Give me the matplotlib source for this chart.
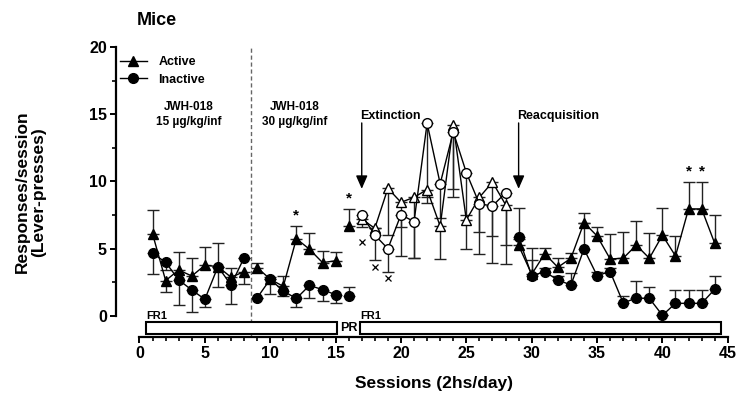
import numpy as np
import matplotlib
matplotlib.use("Agg")
import matplotlib.pyplot as plt
from matplotlib.patches import Rectangle
from matplotlib.lines import Line2D

plt.rcParams['font.family'] = ['Liberation Sans', 'DejaVu Sans']
plt.rcParams['font.weight'] = 'bold'

# ---------------- data ----------------
sessions = list(range(1, 45))

active = [6.1, 2.63, 3.42, 2.97, 3.77, 3.67, 2.88, 3.29,
          3.6, 2.73, 2.2, 5.75, 4.96, 3.97, 4.1,
          6.69,
          7.2, 6.52, 9.49, 8.45, 8.82, 9.4, 6.67, 14.2, 7.14, 8.82, 9.95, 8.28,
          5.24, 3.1, 4.63, 3.62, 4.29, 6.94, 5.95, 4.24, 4.29, 5.27, 4.29, 6.0,
          4.46, 7.96, 7.96, 5.4]
active_err = [1.78, 0.87, 1.36, 1.32, 1.38, 1.73, 0.66, 0.91,
              0.37, 0.19, 0.77, 0.94, 1.2, 0.83, 0.65,
              1.24,
              0.6, 0.0, 3.47, 1.85, 4.52, 0.53, 2.46, 4.78, 2.18, 2.55, 4.0, 4.41,
              0.5, 1.93, 0.4, 0.67, 0.37, 0.74, 0.69, 1.83, 1.93, 1.81, 1.91, 2.0,
              1.51, 1.98, 1.98, 2.11]
active_dir = [1, -1, 1, 1, 1, 1, 1, -1,
              1, 1, 1, 1, 1, 1, 1,
              1,
              -1, -1, -1, -1, -1, -1, -1, -1, -1, -1, -1, -1,
              1, 1, 1, 1, 1, 1, 1, 1, 1, 1, 1, 1, 1, 1, 1, 1]

inactive = [4.66, 3.99, 2.68, 1.93, 1.24, 3.67, 2.3, 4.33,
            1.35, 2.73, 1.85, 1.3, 2.27, 1.96, 1.58,
            1.51,
            7.51, 6.02, 5.0, 7.53, 7.01, 14.33, 9.83, 13.68, 10.66, 8.33, 8.18, 9.15,
            5.85, 3.0, 3.28, 2.68, 2.3, 4.98, 3.0, 3.3, 0.97, 1.33, 1.31, 0.05,
            0.94, 0.94, 0.94, 1.98]
inactive_err = [1.56, 0.57, 1.86, 1.66, 0.54, 1.49, 1.43, 0.0,
                0.0, 1.07, 0.36, 0.65, 0.91, 0.82, 0.64,
                0.67,
                0.57, 1.86, 1.71, 3.05, 2.71, 5.95, 2.57, 4.86, 3.15, 3.72, 4.26, 3.87,
                2.2, 1.16, 0.3, 0.3, 0.87, 1.9, 0.3, 0.3, 0.54, 1.3, 0.87, 0.0,
                0.99, 0.99, 0.99, 0.99]
inactive_dir = [-1] * 15 + [1] + [-1] * 12 + [1] * 16

# connected segments (first, last session), and whether markers are open
segments = [(1, 8, False), (9, 15, False), (16, 16, False), (17, 28, True), (29, 44, False)]

star_sessions = [12, 16, 42, 43]
cross_sessions = [17, 18, 19]
cross_values = [5.53, 3.62, 2.8]

phase_labels = ["FR1", "FR1"]
phase_start = [0.5, 16.9]
phase_end = [15.1, 44.5]

dose_labels = ["JWH-018\n15 µg/kg/inf", "JWH-018\n30 µg/kg/inf"]
dose_x = [3.8, 11.9]
dose_switch = 8.5

# ---------------- figure ----------------
fig = plt.figure(figsize=(7.41, 3.97), dpi=100)
ax = fig.add_axes([0.1565, 0.1516, 0.8292, 0.7403])
ax.set_xlim(-1.8, 45.2)
ax.set_ylim(-1.55, 20.3)

x = np.array(sessions)
a = np.array(active); ae = np.array(active_err); ad = np.array(active_dir)
i = np.array(inactive); ie = np.array(inactive_err); idr = np.array(inactive_dir)

ecol = '#222222'
for y, e, d in ((a, ae, ad), (i, ie, idr)):
    lower = np.where(d < 0, e, 0)
    upper = np.where(d > 0, e, 0)
    ax.errorbar(x, y, yerr=[lower, upper], fmt='none', ecolor=ecol,
                elinewidth=1.0, capsize=4, capthick=1.0, zorder=2)

ms = 7
for s0, s1, is_open in segments:
    sl = slice(s0 - 1, s1)
    fc = 'white' if is_open else 'black'
    ax.plot(x[sl], a[sl], '-', color='black', lw=1.0, marker='^', ms=ms,
            mfc=fc, mec='black', mew=1.0, zorder=3)
    ax.plot(x[sl], i[sl], '-', color='black', lw=1.0, marker='o', ms=ms,
            mfc=fc, mec='black', mew=1.0, zorder=4)

for s in star_sessions:
    top = active[s - 1] + active_err[s - 1]
    ax.text(s, top + 0.25, '*', ha='center', va='bottom', fontsize=11, fontweight='bold')

ax.plot(cross_sessions, cross_values, 'x', color='black', ms=5, mew=0.9, zorder=3)

# dashed dose switch line
ax.plot([dose_switch, dose_switch], [-1.55, 20], color='#666666', lw=1.0,
        ls=(0, (3, 2)), zorder=1)

for lbl, xx in zip(dose_labels, dose_x):
    ax.text(xx, 15.0, lbl, ha='center', va='center', fontsize=8.5,
            fontweight='bold', linespacing=1.3)

# phase rectangles
for lbl, s0, s1 in zip(phase_labels, phase_start, phase_end):
    ax.add_patch(Rectangle((s0, -1.32), s1 - s0, 0.84, facecolor='white',
                           edgecolor='black', lw=1.5, zorder=2, clip_on=False))
    ax.text(s0, -0.35, lbl, ha='left', va='bottom', fontsize=8, fontweight='bold')
ax.text(16.0, -0.9, 'PR', ha='center', va='center', fontsize=9, fontweight='bold')

# arrows
for xx, lbl in ((17, 'Extinction'), (29, 'Reacquisition')):
    ax.annotate('', xy=(xx, 9.45), xytext=(xx, 14.35),
                arrowprops=dict(arrowstyle='-|>,head_width=0.35,head_length=0.8',
                                color='black', lw=1.0, shrinkA=0, shrinkB=0))
    ax.text(xx - 0.1, 14.9, lbl, ha='left', va='center', fontsize=9, fontweight='bold')

# axes style
for sp in ('top', 'right'):
    ax.spines[sp].set_visible(False)
ax.spines['left'].set_bounds(0, 20)
ax.spines['bottom'].set_bounds(0, 45)
ax.spines['left'].set_linewidth(1.6)
ax.spines['bottom'].set_linewidth(1.6)
ax.set_xticks(np.arange(0, 46, 5))
ax.set_xticks(np.arange(0, 46, 1), minor=True)
ax.set_yticks(np.arange(0, 21, 5))
ax.set_yticks(np.arange(0, 21, 2.5), minor=True)
ax.tick_params(axis='both', which='major', length=4.5, width=1.4, labelsize=11.5, pad=2)
ax.tick_params(axis='both', which='minor', length=3, width=1.2)
for lab in ax.get_xticklabels() + ax.get_yticklabels():
    lab.set_fontweight('bold')

# legend
handles = [Line2D([], [], color='black', lw=1.0, marker='^', ms=ms, mfc='black'),
           Line2D([], [], color='black', lw=1.0, marker='o', ms=ms, mfc='black')]
ax.legend(handles, ['Active', 'Inactive'], loc='upper left',
          bbox_to_anchor=(0.006, 0.955), frameon=False,
          handlelength=2.2, handletextpad=0.9, labelspacing=0.45,
          borderpad=0, borderaxespad=0, prop={'weight': 'bold', 'size': 9})

fig.text(0.211, 0.948, 'Mice', ha='center', va='center', fontsize=13, fontweight='bold')
fig.text(0.041, 0.516, 'Responses/session\n(Lever-presses)', rotation=90,
         ha='center', va='center', fontsize=12.5, fontweight='bold', linespacing=1.15)
fig.text(0.586, 0.035, 'Sessions (2hs/day)', ha='center', va='center',
         fontsize=12.5, fontweight='bold')

fig.savefig('out.png', dpi=100)
